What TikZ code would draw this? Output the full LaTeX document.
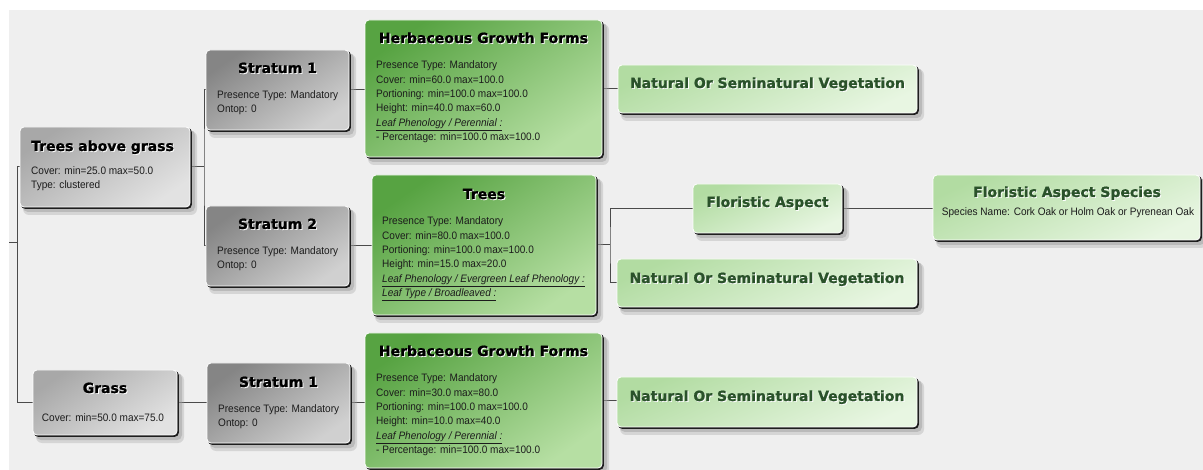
\documentclass[tikz,border=0pt]{standalone}
\usepackage{fontspec}
\setmainfont{Liberation Sans}[FakeStretch=0.93]
\newfontfamily\tfont{DejaVu Sans}[BoldFeatures={FakeBold=1.2}]
\usetikzlibrary{calc}
\pgfdeclarelayer{bg}
\pgfdeclarelayer{links}
\pgfsetlayers{bg,links,main}

\definecolor{canvas}{HTML}{EFEFEF}
\definecolor{shadowc}{HTML}{9A9A9A}
\definecolor{edgec}{HTML}{1E1E1E}
\definecolor{linkc}{HTML}{4A4A4A}
\definecolor{gA1}{HTML}{A8A8A8}
\definecolor{gA2}{HTML}{E2E2E2}
\definecolor{gS1}{HTML}{858585}
\definecolor{gS2}{HTML}{D0D0D0}
\definecolor{dG1}{HTML}{57A342}
\definecolor{dG2}{HTML}{B6DFA3}
\definecolor{lG1}{HTML}{B2DCA2}
\definecolor{lG2}{HTML}{E8F6E2}
\definecolor{ttlgreen}{HTML}{2A522A}
\definecolor{bodyc}{HTML}{1C1C1C}

\tikzset{
  panel/.style={rectangle, rounded corners=4pt, draw=white, line width=0.8pt,
                inner sep=0pt, outer sep=0pt},
  greyA/.style={panel, top color=gA1, bottom color=gA2, shading angle=35},
  greyS/.style={panel, top color=gS1, bottom color=gS2, shading angle=35},
  darkG/.style={panel, top color=dG1, bottom color=dG2, shading angle=35},
  lightG/.style={panel, top color=lG1, bottom color=lG2, shading angle=25},
  ttl/.style={font=\tfont\bfseries\fontsize{14}{16}\selectfont, inner sep=0pt},
  body/.style={font=\fontsize{10.8}{12}\selectfont, inner sep=0pt, text=bodyc},
  link/.style={draw=linkc, line width=1pt},
}

% #1 name, #2 style, #3 x1, #4 y1, #5 x2, #6 y2 (pixel grid, y down)
\newcommand\panel[6]{%
  \pgfmathsetmacro\pw{#5-#3}\pgfmathsetmacro\ph{#6-#4}%
  \pgfmathsetmacro\pcx{(#3+#5)/2}\pgfmathsetmacro\pcy{(#4+#6)/2}%
  \fill[shadowc,opacity=.30,rounded corners=6pt] (#3+3,#4+4) rectangle (#5+7,#6+8);
  \fill[shadowc,opacity=.45,rounded corners=5pt] (#3+3,#4+3) rectangle (#5+5,#6+5);
  \fill[edgec,rounded corners=4pt] (#3+1,#4+1) rectangle (#5+1.8,#6+1.8);
  \node[#2,minimum width=\pw pt,minimum height=\ph pt] (#1) at (\pcx,\pcy) {};
}
% centred title with a light offset copy: #1 name, #2 x, #3 baseline, #4 colour, #5 text
\newcommand\ttlc[5]{%
  \node[ttl,text=white,anchor=base] (#1-s) at (#2+0.9,#3+0.9) {#5};
  \node[ttl,text=#4,anchor=base] (#1) at (#2,#3) {#5};
}
\newcommand\ttll[5]{%
  \node[ttl,text=white,anchor=base west] (#1-s) at (#2+0.9,#3+0.9) {#5};
  \node[ttl,text=#4,anchor=base west] (#1) at (#2,#3) {#5};
}
% body line: #1 name, #2 x, #3 baseline, #4 text
\newcommand\bl[4]{\node[body,anchor=base west] (#1) at (#2,#3) {#4};}
\newcommand\blc[4]{\node[body,anchor=base] (#1) at (#2,#3) {#4};}
\newcommand\ul[1]{\underline{\textit{#1}}}

\begin{document}
\begin{tikzpicture}[x=1pt,y=-1pt]
\useasboundingbox (0,0) rectangle (1203,470);
\begin{pgfonlayer}{bg}
  \fill[white] (0,0) rectangle (1203,470);
  \fill[canvas] (9,10) rectangle (1203,470);
\end{pgfonlayer}

% ---- boxes ----
\panel{tag}{greyA}{20}{127}{190}{207}
\panel{s1}{greyS}{206}{50}{349}{130}
\panel{s2}{greyS}{206}{206}{349}{286}
\panel{grass}{greyA}{33}{370}{177}{435}
\panel{s3}{greyS}{207}{363}{350}{443}
\panel{hgf1}{darkG}{365}{20}{602}{157}
\panel{trees}{darkG}{372}{175}{596}{315}
\panel{hgf2}{darkG}{365}{333}{602}{468}
\panel{nv1}{lightG}{618}{65}{917}{113}
\panel{fa}{lightG}{693}{184}{842}{233}
\panel{nv2}{lightG}{617}{259}{917}{307}
\panel{nv3}{lightG}{617}{377}{917}{427}
\panel{fas}{lightG}{933}{175}{1200}{240}

% ---- texts ----
\ttll{tag-t}{31}{151}{black}{Trees above grass}
\bl{tag-1}{31}{175}{Cover: min=25.0 max=50.0}
\bl{tag-2}{31}{189}{Type: clustered}

\ttlc{s1-t}{277.5}{73}{black}{Stratum 1}
\bl{s1-1}{217}{99}{Presence Type: Mandatory}
\bl{s1-2}{217}{113}{Ontop: 0}

\ttlc{s2-t}{277.5}{229}{black}{Stratum 2}
\bl{s2-1}{217}{255}{Presence Type: Mandatory}
\bl{s2-2}{217}{269}{Ontop: 0}

\ttlc{grass-t}{105}{393}{black}{Grass}
\blc{grass-1}{103}{421}{Cover: min=50.0 max=75.0}

\ttlc{s3-t}{278.5}{387}{black}{Stratum 1}
\bl{s3-1}{218}{413}{Presence Type: Mandatory}
\bl{s3-2}{218}{427}{Ontop: 0}

\ttlc{hgf1-t}{483.5}{43}{black}{Herbaceous Growth Forms}
\bl{hgf1-1}{376}{69}{Presence Type: Mandatory}
\bl{hgf1-2}{376}{83.3}{Cover: min=60.0 max=100.0}
\bl{hgf1-3}{376}{97.6}{Portioning: min=100.0 max=100.0}
\bl{hgf1-4}{376}{111.9}{Height: min=40.0 max=60.0}
\bl{hgf1-5}{376}{126.2}{\ul{Leaf Phenology / Perennial :}}
\bl{hgf1-6}{376}{140.5}{- Percentage: min=100.0 max=100.0}

\ttlc{trees-t}{484}{199}{black}{Trees}
\bl{trees-1}{382}{225}{Presence Type: Mandatory}
\bl{trees-2}{382}{239.3}{Cover: min=80.0 max=100.0}
\bl{trees-3}{382}{253.6}{Portioning: min=100.0 max=100.0}
\bl{trees-4}{382}{267.9}{Height: min=15.0 max=20.0}
\bl{trees-5}{382}{282.2}{\ul{Leaf Phenology / Evergreen Leaf Phenology :}}
\bl{trees-6}{382}{296.5}{\ul{Leaf Type / Broadleaved :}}

\ttlc{hgf2-t}{483.5}{356}{black}{Herbaceous Growth Forms}
\bl{hgf2-1}{376}{382}{Presence Type: Mandatory}
\bl{hgf2-2}{376}{396.3}{Cover: min=30.0 max=80.0}
\bl{hgf2-3}{376}{410.6}{Portioning: min=100.0 max=100.0}
\bl{hgf2-4}{376}{424.9}{Height: min=10.0 max=40.0}
\bl{hgf2-5}{376}{439.2}{\ul{Leaf Phenology / Perennial :}}
\bl{hgf2-6}{376}{453.5}{- Percentage: min=100.0 max=100.0}

\ttlc{nv1-t}{767.5}{88}{ttlgreen}{Natural Or Seminatural Vegetation}
\ttlc{fa-t}{767.5}{207}{ttlgreen}{Floristic Aspect}
\ttlc{nv2-t}{767}{283}{ttlgreen}{Natural Or Seminatural Vegetation}
\ttlc{nv3-t}{767}{401}{ttlgreen}{Natural Or Seminatural Vegetation}
\ttlc{fas-t}{1067}{197}{ttlgreen}{Floristic Aspect Species}
\blc{fas-1}{1068}{216}{Species Name: Cork Oak or Holm Oak or Pyrenean Oak}

% ---- connectors ----
\coordinate (rootin) at (9,243);
\coordinate (trunk) at (17,243);
\coordinate (ja) at (204,167);
\coordinate (jb) at (610,245);
\begin{pgfonlayer}{links}
  \draw[link] (rootin) -- (trunk);
  \draw[link] (tag.west) -- ++(-3,0) |- (grass.west);
  \draw[link] (tag.east) -- (ja);
  \draw[link] (s1.west) -| (ja) |- (s2.west);
  \draw[link] (s1.east) -- (s1.east -| hgf1.west);
  \draw[link] (hgf1.east) -- (hgf1.east -| nv1.west);
  \draw[link] (s2.east) -- (s2.east -| trees.west);
  \draw[link] (trees.east) -- (jb);
  \draw[link] (fa.west) -| (jb) |- (nv2.west);
  \draw[link] (fa.east) -- (fa.east -| fas.west);
  \draw[link] (grass.east) -- (grass.east -| s3.west);
  \draw[link] (s3.east) -- (s3.east -| hgf2.west);
  \draw[link] (hgf2.east) -- (hgf2.east -| nv3.west);
\end{pgfonlayer}
\end{tikzpicture}
\end{document}
